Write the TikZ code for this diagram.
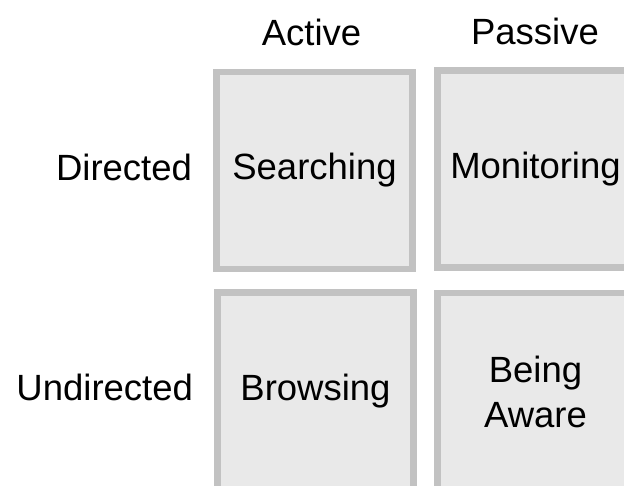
\documentclass[tikz,border=0pt]{standalone}
\usepackage{fontspec}
\setmainfont{Liberation Sans}
\definecolor{cellfill}{HTML}{E9E9E9}
\definecolor{celledge}{HTML}{C2C2C2}
\begin{document}
\begin{tikzpicture}[x=1pt,y=-1pt,
  every node/.style={font=\fontsize{36.5}{45}\selectfont, inner sep=0pt, outer sep=0pt},
  cell/.style={draw=celledge, fill=cellfill, line width=6.5pt,
    minimum width=196pt, minimum height=197pt, align=center},
  axislabel/.style={anchor=base}]
  \useasboundingbox (0,0) rectangle (624,486);

  % quadrant boxes
  \node[cell] (search)  at (314.5,170.5) {Searching};
  \node[cell] (monitor) at (535.5,169)   {Monitoring};
  \node[cell] (browse)  at (315.5,391)   {Browsing};
  \node[cell] (aware)   at (535.5,391.5) {Being\\Aware};

  % column headings
  \node[axislabel] (active)  at (311.5,46) {Active};
  \node[axislabel] (passive) at (535,44.3) {Passive};

  % row headings
  \node[anchor=base east] (directed)   at (192,180.7) {Directed};
  \node[anchor=base east] (undirected) at (193,400.7) {Undirected};
\end{tikzpicture}
\end{document}
